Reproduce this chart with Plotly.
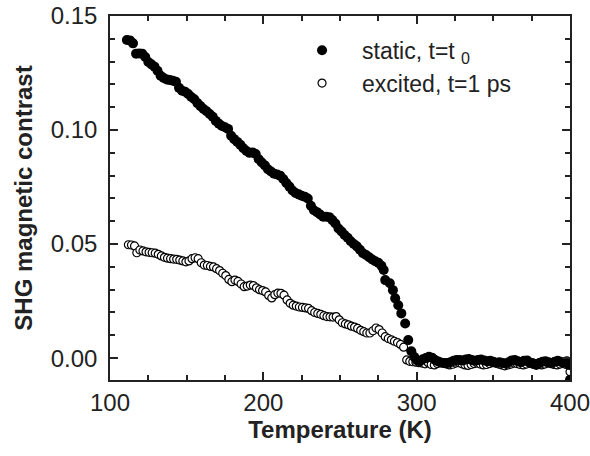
import plotly.graph_objects as go

# ---- data ----
static_T = [111, 113, 115, 117, 119, 121, 123, 125, 127, 129,
            131, 133, 135, 137, 139, 141, 143, 145, 147, 149,
            151, 153, 155, 157, 159, 161, 163, 165, 167, 169,
            171, 173, 175, 177, 179, 181, 183, 185, 187, 189,
            191, 193, 195, 197, 199, 201, 203, 205, 207, 209,
            211, 213, 215, 217, 219, 221, 223, 225, 227, 229,
            231, 233, 235, 237, 239, 241, 243, 245, 247, 249,
            251, 253, 255, 257, 259, 261, 263, 265, 267, 269,
            271, 273, 275, 277, 278.5, 279.5, 282.5, 284.5, 286, 288,
            290, 292.5, 294.5, 296.5, 298.5, 300, 302, 304, 306, 308,
            310, 312, 314, 316, 318, 320, 322, 324, 326, 328,
            330, 332, 334, 336, 338, 340, 342, 344, 346, 348,
            350, 352, 354, 356, 358, 360, 362, 364, 366, 368,
            370, 372, 374, 376, 378, 380, 382, 384, 386, 388,
            390, 392, 394, 396, 398, 399.5, 400]
static_val = [0.1395, 0.1393, 0.1380, 0.1335, 0.1336, 0.1335, 0.1320, 0.1298, 0.1288, 0.1278,
              0.1260, 0.1238, 0.1228, 0.1222, 0.1219, 0.1216, 0.1212, 0.1185, 0.1172, 0.1168,
              0.1158, 0.1145, 0.1135, 0.1118, 0.1105, 0.1092, 0.1082, 0.1070, 0.1058, 0.1040,
              0.1028, 0.1018, 0.1012, 0.1005, 0.0975, 0.0960, 0.0948, 0.0935, 0.0920, 0.0908,
              0.0900, 0.0902, 0.0895, 0.0872, 0.0858, 0.0845, 0.0828, 0.0818, 0.0808, 0.0805,
              0.0800, 0.0785, 0.0768, 0.0752, 0.0735, 0.0724, 0.0718, 0.0712, 0.0708, 0.0700,
              0.0668, 0.0648, 0.0640, 0.0630, 0.0620, 0.0620, 0.0618, 0.0605, 0.0590, 0.0568,
              0.0555, 0.0540, 0.0528, 0.0512, 0.0500, 0.0490, 0.0475, 0.0460, 0.0452, 0.0442,
              0.0432, 0.0425, 0.0418, 0.0405, 0.0386, 0.0342, 0.0328, 0.0298, 0.0262, 0.0232,
              0.0196, 0.0152, 0.0079, 0.0030, 0.0005, -0.0008, -0.0015, -0.0005, 0.0000, 0.0006,
              0.0002, -0.0008, -0.0015, -0.0020, -0.0022, -0.0022, -0.0018, -0.0012, -0.0008, -0.0008,
              -0.0010, -0.0006, -0.0004, -0.0008, -0.0012, -0.0008, -0.0006, -0.0010, -0.0014, -0.0012,
              -0.0016, -0.0020, -0.0018, -0.0022, -0.0024, -0.0018, -0.0010, -0.0008, -0.0014, -0.0018,
              -0.0012, -0.0010, -0.0020, -0.0026, -0.0030, -0.0022, -0.0016, -0.0014, -0.0018, -0.0022,
              -0.0016, -0.0012, -0.0016, -0.0020, -0.0014, -0.0030, -0.0095]

excited_T = [112, 114, 116, 117.5, 119.5, 121.5, 123.5, 125.5, 127.5, 129.5,
             131.5, 133.5, 135.5, 137.5, 139.5, 141.5, 143.5, 145.5, 147.5, 149.5,
             151.5, 153.5, 155.5, 157.5, 159.5, 161.5, 163.5, 165.5, 167.5, 169.5,
             171.5, 173.5, 175.5, 177.5, 179.5, 181.5, 183.5, 185.5, 187.5, 189.5,
             191.5, 193.5, 195.5, 197.5, 199.5, 201.5, 203.5, 205.5, 207.5, 209.5,
             211.5, 213.5, 215.5, 217.5, 219.5, 221.5, 223.5, 225.5, 227.5, 229.5,
             231.5, 233.5, 235.5, 237.5, 239.5, 241.5, 243.5, 245.5, 247.5, 249.5,
             251.5, 253.5, 255.5, 257.5, 259.5, 261.5, 263.5, 265.5, 267.5, 269.5,
             271.5, 273.5, 275.5, 277.5, 279.5, 281.5, 283.5, 285.5, 287.5, 289.5,
             291.5, 293.5, 295.5, 297.5, 299.5, 301.5, 303.5, 305.5, 307.5, 309.5,
             311.5, 313.5, 315.5, 317.5, 319.5, 321.5, 323.5, 325.5, 327.5, 329.5,
             331.5, 333.5, 335.5, 337.5, 339.5, 341.5, 343.5, 345.5, 347.5, 349.5,
             351.5, 353.5, 355.5, 357.5, 359.5, 361.5, 363.5, 365.5, 367.5, 369.5,
             371.5, 373.5, 375.5, 377.5, 379.5, 381.5, 383.5, 385.5, 387.5, 389.5,
             391.5, 393.5, 395.5, 397.5, 399.5, 400]
excited_val = [0.0497, 0.0496, 0.0492, 0.0462, 0.0474, 0.0470, 0.0466, 0.0464, 0.0462, 0.0460,
               0.0455, 0.0448, 0.0442, 0.0438, 0.0436, 0.0434, 0.0433, 0.0430, 0.0426, 0.0422,
               0.0426, 0.0436, 0.0440, 0.0436, 0.0418, 0.0408, 0.0406, 0.0402, 0.0400, 0.0392,
               0.0384, 0.0372, 0.0362, 0.0345, 0.0335, 0.0342, 0.0336, 0.0325, 0.0313, 0.0316,
               0.0320, 0.0318, 0.0308, 0.0300, 0.0296, 0.0290, 0.0275, 0.0264, 0.0278, 0.0285,
               0.0284, 0.0276, 0.0255, 0.0240, 0.0232, 0.0228, 0.0224, 0.0222, 0.0220, 0.0218,
               0.0208, 0.0200, 0.0196, 0.0192, 0.0186, 0.0182, 0.0181, 0.0180, 0.0182, 0.0168,
               0.0155, 0.0150, 0.0146, 0.0140, 0.0136, 0.0130, 0.0122, 0.0116, 0.0110, 0.0110,
               0.0120, 0.0132, 0.0125, 0.0110, 0.0094, 0.0086, 0.0080, 0.0074, 0.0068, 0.0060,
               0.0048, -0.0008, -0.0014, -0.0016, -0.0018, -0.0020, -0.0022, -0.0025, -0.0020, -0.0028,
               -0.0030, -0.0024, -0.0018, -0.0022, -0.0026, -0.0030, -0.0027, -0.0022, -0.0020, -0.0025,
               -0.0030, -0.0032, -0.0028, -0.0024, -0.0022, -0.0026, -0.0030, -0.0028, -0.0024, -0.0020,
               -0.0022, -0.0026, -0.0030, -0.0034, -0.0030, -0.0026, -0.0022, -0.0024, -0.0028, -0.0030,
               -0.0026, -0.0022, -0.0020, -0.0024, -0.0028, -0.0030, -0.0026, -0.0022, -0.0024, -0.0028,
               -0.0030, -0.0026, -0.0024, -0.0028, -0.0030, -0.0060]

x_ticks = [100, 200, 300, 400]
y_ticks = [0.00, 0.05, 0.10, 0.15]
y_tick_text = ["0.00", "0.05", "0.10", "0.15"]

FONT = "Liberation Sans, Arial, Helvetica, sans-serif"

fig = go.Figure()
fig.add_trace(go.Scatter(
    x=excited_T, y=excited_val, mode="markers", name="excited, t=1 ps",
    legendrank=2,
    marker=dict(symbol="circle", size=8, color="white",
                line=dict(color="black", width=1.2)),
))
fig.add_trace(go.Scatter(
    x=static_T, y=static_val, mode="markers", name="static, t=t <sub>0</sub>",
    legendrank=1,
    marker=dict(symbol="circle", size=10, color="black",
                line=dict(color="black", width=0)),
))

axis_common = dict(
    showline=True, linecolor="#222", linewidth=1.5, mirror="ticks",
    ticks="inside", ticklen=8, tickwidth=1.5, tickcolor="#222",
    showgrid=False, zeroline=False, automargin=False,
    ticklabeloverflow="allow",
    tickfont=dict(family=FONT, size=24, color="#222"),
)

fig.update_layout(
    width=590, height=456,
    margin=dict(l=110, r=20, t=16, b=76, autoexpand=False),
    paper_bgcolor="white", plot_bgcolor="white",
    font=dict(family=FONT, color="#222"),
    showlegend=True,
    legend=dict(x=0.374, y=0.965, xanchor="left", yanchor="top",
                bgcolor="rgba(0,0,0,0)", itemwidth=70,
                font=dict(family=FONT, size=23, color="#222")),
    xaxis=dict(
        range=[100, 400], tickvals=x_ticks,
        minor=dict(dtick=25, tick0=100, ticks="inside", ticklen=5, tickwidth=1.5, tickcolor="#222"),
        title=dict(text="<b>Temperature (K)</b>", font=dict(family=FONT, size=24, color="#222"), standoff=6),
        **axis_common,
    ),
    yaxis=dict(
        range=[-0.0096, 0.15], tickvals=y_ticks, ticktext=y_tick_text,
        ticklabelstandoff=6,
        minor=dict(dtick=0.01, tick0=0, ticks="inside", ticklen=5, tickwidth=1.5, tickcolor="#222"),
        title=dict(text="<b>SHG magnetic contrast</b>", font=dict(family=FONT, size=24, color="#222"), standoff=11),
        **axis_common,
    ),
)

fig.write_html("out.html")
